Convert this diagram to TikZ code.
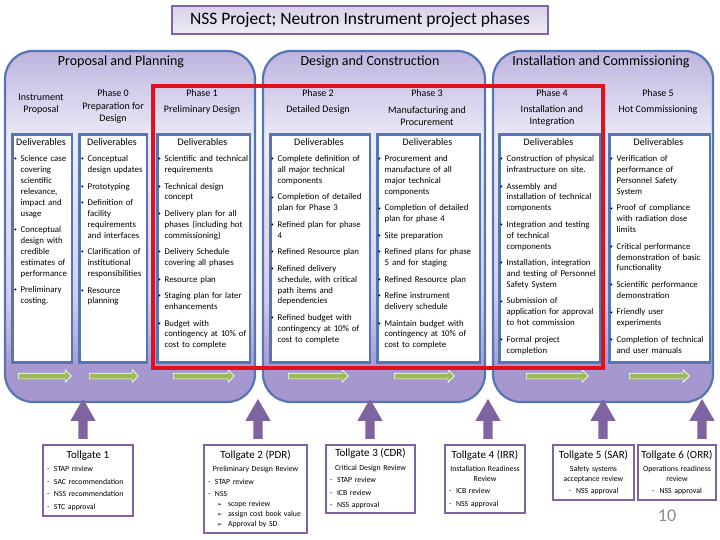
\documentclass[tikz,border=0pt]{standalone}
\usepackage{fontspec}
\setmainfont{Carlito}
\newfontfamily\dejavu{DejaVu Sans}
\usepackage{tikz}
\usetikzlibrary{arrows.meta, calc, positioning, shapes.arrows}

\definecolor{frameblue}{RGB}{84,118,181}
\definecolor{gatepurple}{RGB}{128,100,162}
\definecolor{arrowgreen}{RGB}{155,187,89}
\definecolor{phasetop}{RGB}{190,180,222}
\definecolor{phasemid}{RGB}{238,236,248}
\definecolor{phaselow}{RGB}{212,206,234}
\definecolor{phasebot}{RGB}{166,152,206}
\definecolor{titletop}{RGB}{216,208,233}
\definecolor{titlebot}{RGB}{240,237,247}
\definecolor{milered}{RGB}{226,16,28}
\definecolor{pagegray}{RGB}{140,140,140}

\pgfdeclareverticalshading{phaseshade}{100bp}{color(0bp)=(phasebot); color(30bp)=(phasebot); color(40bp)=(phaselow); color(62bp)=(phasemid); color(75bp)=(phasetop); color(100bp)=(phasetop)}

\newcommand{\dli}[1]{\hangindent=6.5pt\hangafter=1\noindent\makebox[6.5pt][l]{\rule{0pt}{8pt}\raisebox{0.8pt}{\fontsize{5.5}{5}\selectfont\textbullet}}#1\par\vspace{5.6pt}}
\newcommand{\tgtitle}[1]{\noindent\makebox[\linewidth]{\fontsize{11}{13}\selectfont #1}\par\vspace{1pt}}
\newcommand{\tgsub}[1]{\vspace{3pt}{\centering\fontsize{7.8}{9.5}\selectfont #1\par}}
\newcommand{\tgi}[1]{\noindent\makebox[7pt][l]{-}#1\par}
\newcommand{\tgc}[1]{{\centering -\hspace{5pt}#1\par}}
\newcommand{\tgs}[1]{{\fontsize{7.8}{10}\selectfont\noindent\hspace*{9pt}\makebox[11pt][l]{\dejavu\fontsize{6}{6}\selectfont ➢}#1\par}}

\begin{document}
\begin{tikzpicture}[x=1pt, y=-1pt,
  phasebox/.style={draw=frameblue, line width=2.2pt, rounded corners=28pt, shade, shading=phaseshade, inner sep=0},
  phasehead/.style={font=\fontsize{14}{16}\selectfont},
  phaselabel/.style={font=\fontsize{10}{12.5}\selectfont, align=center, inner sep=0},
  delbox/.style={draw=frameblue, line width=2.6pt, fill=white, anchor=north west, minimum height=228, inner sep=0},
  delhead/.style={font=\fontsize{10}{12}\selectfont, inner sep=0},
  deltext/.style={anchor=north west, align=left, inner sep=0, font=\fontsize{8.8}{10.9}\selectfont},
  flow/.style={single arrow, draw=white, line width=0.6pt, fill=arrowgreen, inner sep=2.5pt, single arrow head extend=3.5pt, single arrow tip angle=90},
  gatearrow/.style={single arrow, fill=gatepurple, rotate=90, minimum height=40, inner sep=4.5pt, single arrow head extend=8pt, single arrow tip angle=60},
  gatebox/.style={draw=gatepurple, line width=1.6pt, fill=white, align=left, inner xsep=4pt, inner ysep=0, font=\fontsize{7.8}{12.5}\selectfont},
  milestone/.style={draw=milered, line width=4pt}]
  \useasboundingbox[fill=white] (0,0) rectangle (720,540);

  \node[draw=gatepurple, line width=1.6pt, top color=titletop, bottom color=titlebot, minimum width=376, minimum height=28, font=\fontsize{17.5}{20}\selectfont] (title) at (360,20) {NSS Project; Neutron Instrument project phases};

  \node[phasebox, minimum width=250, minimum height=351] (planbox) at (130,226.5) {};
  \node[phasebox, minimum width=222, minimum height=351] (buildbox) at (374,226.5) {};
  \node[phasebox, minimum width=220, minimum height=351] (commbox) at (603,226.5) {};
  \node[phasehead] (planhead) at (121,62) {Proposal and Planning};
  \node[phasehead] (buildhead) at (370,62) {Design and Construction};
  \node[phasehead] (commhead) at (601,62) {Installation and Commissioning};

  \node[phaselabel] (propA) at (41,104) {Instrument\\Proposal};
  \node[phaselabel] (phaseB) at (113,93) {Phase 0};
  \node[phaselabel] (descB) at (113,113) {Preparation for\\Design};
  \node[phaselabel] (phaseC) at (202,93) {Phase 1};
  \node[phaselabel] (descC) at (202,110) {Preliminary Design};
  \node[phaselabel] (phaseD) at (318,93) {Phase 2};
  \node[phaselabel] (descD) at (318,110) {Detailed Design};
  \node[phaselabel] (phaseE) at (427,93) {Phase 3};
  \node[phaselabel] (descE) at (427,116) {Manufacturing and\\Procurement};
  \node[phaselabel] (phaseF) at (552,93) {Phase 4};
  \node[phaselabel] (descF) at (552,116) {Installation and\\Integration};
  \node[phaselabel] (phaseG) at (658,93) {Phase 5};
  \node[phaselabel] (descG) at (658,110) {Hot Commissioning};

  \foreach \n/\l/\r in {A/10/72, B/77/147, C/155/250, D/268/370, E/375/480, F/497/600, G/607/710} {
    \node[delbox, minimum width={\r-\l-2.6}] (box\n) at (\l+1.3,133.3) {};
    \node[delhead] (dhead\n) at ({(\l+\r)/2},142) {Deliverables};
  }

  \node[deltext, text width=56] (listA) at (14,153.5) {\dli{Science case\newline covering\newline scientific\newline relevance,\newline impact and\newline usage}\dli{Conceptual\newline design with\newline credible\newline estimates of\newline performance}\dli{Preliminary\newline costing.}};
  \node[deltext, text width=64] (listB) at (81,153.5) {\dli{Conceptual\newline design updates}\dli{Prototyping}\dli{Definition of\newline facility\newline requirements\newline and interfaces}\dli{Clarification of\newline institutional\newline responsibilities}\dli{Resource\newline planning}};
  \node[deltext, text width=91] (listC) at (158,153.5) {\dli{Scientific and technical\newline requirements}\dli{Technical design\newline concept}\dli{Delivery plan for all\newline phases (including hot\newline commissioning)}\dli{Delivery Schedule\newline covering all phases}\dli{Resource plan}\dli{Staging plan for later\newline enhancements}\dli{Budget with\newline contingency at 10\% of\newline cost to complete}};
  \node[deltext, text width=97] (listD) at (271,153.5) {\dli{Complete definition of\newline all major technical\newline components}\dli{Completion of detailed\newline plan for Phase 3}\dli{Refined plan for phase\newline 4}\dli{Refined Resource plan}\dli{Refined delivery\newline schedule, with critical\newline path items and\newline dependencies}\dli{Refined budget with\newline contingency at 10\% of\newline cost to complete}};
  \node[deltext, text width=100] (listE) at (378,153.5) {\dli{Procurement and\newline manufacture of all\newline major technical\newline components}\dli{Completion of detailed\newline plan for phase 4}\dli{Site preparation}\dli{Refined plans for phase\newline 5 and for staging}\dli{Refined Resource plan}\dli{Refine instrument\newline delivery schedule}\dli{Maintain budget with\newline contingency at 10\% of\newline cost to complete}};
  \node[deltext, text width=98] (listF) at (500,153.5) {\dli{Construction of physical\newline infrastructure on site.}\dli{Assembly and\newline installation of technical\newline components}\dli{Integration and testing\newline of technical\newline components}\dli{Installation, integration\newline and testing of Personnel\newline Safety System}\dli{Submission of\newline application for approval\newline to hot commission}\dli{Formal project\newline completion}};
  \node[deltext, text width=98] (listG) at (610,153.5) {\dli{Verification of\newline performance of\newline Personnel Safety\newline System}\dli{Proof of compliance\newline with radiation dose\newline limits}\dli{Critical performance\newline demonstration of basic\newline functionality}\dli{Scientific performance\newline demonstration}\dli{Friendly user\newline experiments}\dli{Completion of technical\newline and user manuals}};

  \foreach \n/\a/\b in {A/17/70, B/88/137, C/172/233, D/287/347, E/393/453, F/525/587, G/628/688}
    \node[flow, minimum height={\b-\a}] (flow\n) at ({(\a+\b)/2},376) {};

  \draw[milestone] (153,86) rectangle (603,368);

  \foreach \n/\x in {1/83, 2/258, 3/370, 4/488, 5/603, 6/702}
    \node[gatearrow] (up\n) at (\x,423) {};

  \node[gatebox, minimum width=90, minimum height=71, text width=82] (tg1) at (88,480.5) {\tgtitle{Tollgate 1}\tgi{STAP review}\tgi{SAC recommendation}\tgi{NSS recommendation}\tgi{STC approval}};
  \node[gatebox, minimum width=103, minimum height=88, text width=95] (tg2) at (255.5,489) {\tgtitle{Tollgate 2 (PDR)}\tgsub{Preliminary Design Review}\tgi{STAP review}\tgi{NSS}\tgs{scope review}\tgs{assign cost book value}\tgs{Approval by SD}};
  \node[gatebox, minimum width=89, minimum height=68, text width=81] (tg3) at (370.5,479) {\tgtitle{Tollgate 3 (CDR)}\tgsub{Critical Design Review}\tgi{STAP review}\tgi{ICB review}\tgi{NSS approval}};
  \node[gatebox, minimum width=80, minimum height=68, text width=72] (tg4) at (485,479) {\tgtitle{Tollgate 4 (IRR)}\tgsub{Installation Readiness\\Review}\tgi{ICB review}\tgi{NSS approval}};
  \node[gatebox, minimum width=81, minimum height=55, text width=73] (tg5) at (593.5,472.5) {\tgtitle{Tollgate 5 (SAR)}\tgsub{Safety systems\\acceptance review}\tgc{NSS approval}};
  \node[gatebox, minimum width=78, minimum height=55, text width=70] (tg6) at (677,472.5) {\tgtitle{Tollgate 6 (ORR)}\tgsub{Operations readiness\\review}\tgc{NSS approval}};

  \node[text=pagegray, font=\fontsize{18}{20}\selectfont] (pageno) at (667,516) {10};
\end{tikzpicture}
\end{document}
